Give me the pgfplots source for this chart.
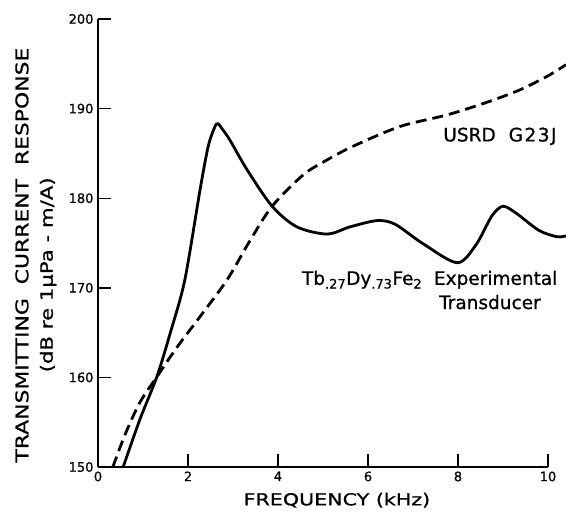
\documentclass[border=0pt]{standalone}
\usepackage{fontspec}
\setmainfont{DejaVu Sans}[FakeBold=0.8]
\newfontfamily\wide{DejaVu Sans}[FakeStretch=1.25, FakeBold=0.8, Ligatures=TeX]
\usepackage{pgfplots}
\pgfplotsset{compat=1.18}
\begin{document}
\begin{tikzpicture}
\begin{axis}[
  name=ax,
  scale only axis,
  width=450pt, height=448pt,
  xmin=0, xmax=10, ymin=150, ymax=200,
  axis lines*=left,
  axis line style={line width=1.6pt},
  clip=false,
  xtick={0,2,4,6,8,10},
  ytick={150,160,170,180,190,200},
  tick align=inside,
  major tick length=13pt,
  tick style={line width=1.4pt, black},
  /pgf/number format/assume math mode=true,
  ticklabel style={font=\fontsize{13}{13}\selectfont},
  yticklabel style={xshift=-1pt},
  xticklabel style={yshift=-1pt},
]
\addplot[black, line width=2.8pt, smooth, tension=0.5] coordinates {
 (0.56,150) (0.93,155.3) (1.31,160.1) (1.62,165.2) (1.93,170.9) (2.27,181) (2.45,185.8)
 (2.6,188.0) (2.67,188.3) (2.75,187.8) (2.93,186.5) (3.31,183.2) (3.87,179.1)
 (4.42,176.8) (5.09,176.0) (5.6,176.8) (6.2,177.5) (6.6,177.1) (7.2,175.0)
 (7.98,172.8) (8.4,174.8) (8.75,178.0) (9.0,179.1) (9.3,178.3) (9.8,176.4)
 (10.2,175.7) (10.4,175.8)
};
\addplot[black, line width=2.8pt, dash pattern=on 11pt off 6pt, smooth, tension=0.5] coordinates {
 (0.33,150) (0.6,153.6) (0.93,157.2) (1.3,160.0) (1.76,163.4) (2.27,166.8) (2.87,170.9)
 (3.37,175.2) (3.87,179.1) (4.56,182.6) (5.1,184.3) (5.67,185.8) (6.71,188.0)
 (7.76,189.3) (8.64,190.7) (9.38,192.1) (9.98,193.6) (10.4,194.9)
};
\node[anchor=west, inner sep=0pt, font=\fontsize{18.5}{18.5}\selectfont] at (axis cs:7.67,186.9)
  {USRD\hspace{13pt}{\addfontfeatures{LetterSpace=8}G23J}};
\node[anchor=west, inner sep=0pt, font=\fontsize{18.5}{18.5}\selectfont] at (axis cs:4.53,170.9)
  {Tb\textsubscript{.27}Dy\textsubscript{.73}Fe\textsubscript{2}\ \ Experimental};
\node[font=\fontsize{18.5}{18.5}\selectfont] at (axis cs:8.71,168.4) {Transducer};
\node[rotate=90, font=\wide\fontsize{17.5}{17.5}\selectfont] at (axis description cs:-0.169,0.473)
  {TRANSMITTING\ \ CURRENT\ \ RESPONSE};
\node[rotate=90, font=\wide\fontsize{17}{17}\selectfont] at (axis description cs:-0.111,0.429)
  {(dB re 1μPa - m/A)};
\node[font=\wide\fontsize{16.5}{16.5}\selectfont] at (axis description cs:0.531,-0.074)
  {FREQUENCY\ (kHz)};
\end{axis}
\pgfresetboundingbox
\path (ax.south west) ++(-98pt,-48pt) rectangle ++(566pt,515pt);
\end{tikzpicture}
\end{document}
